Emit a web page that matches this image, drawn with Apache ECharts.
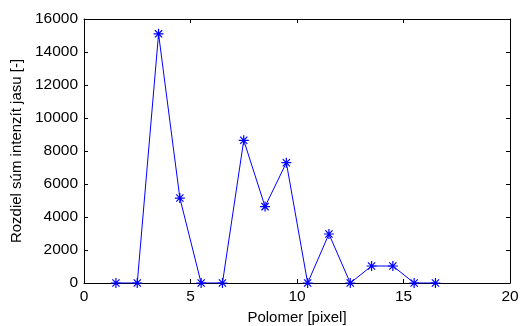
<!DOCTYPE html>
<html>
<head>
<meta charset="utf-8">
<script src="https://cdn.jsdelivr.net/npm/echarts@6/dist/echarts.min.js"></script>
<style>html,body{margin:0;padding:0;background:#fff;}#c{width:520px;height:326px;}</style>
</head>
<body>
<div id="c"></div>
<script>
const xValues = [1.5, 2.5, 3.5, 4.5, 5.5, 6.5, 7.5, 8.5, 9.5, 10.5, 11.5, 12.5, 13.5, 14.5, 15.5, 16.5];
const yValues = [0, 0, 15100, 5150, 0, 0, 8650, 4630, 7290, 0, 2970, 0, 1030, 1030, 0, 0];
const xTitle = 'Polomer [pixel]';
const yTitle = 'Rozdiel súm intenzít jasu [-]';

const font = '"Liberation Sans", Arial, sans-serif';
const chart = echarts.init(document.getElementById('c'), null, {renderer: 'canvas'});
const starPath = 'path://M0,-5L0,5M-5,0L5,0M-3.6,-3.6L3.6,3.6M-3.6,3.6L3.6,-3.6';

function baseAxis() {
  return {
    axisLine: {show: true, onZero: false, lineStyle: {color: '#000', width: 1}},
    axisTick: {show: true, inside: true, length: 4, lineStyle: {color: '#000'}},
    splitLine: {show: false}
  };
}

chart.setOption({
  animation: false,
  backgroundColor: '#fff',
  grid: {left: 84, right: 10, top: 19, bottom: 43, containLabel: false, outerBoundsMode: 'none'},
  xAxis: [
    Object.assign(baseAxis(), {
      type: 'value', min: 0, max: 20, interval: 5, position: 'bottom',
      name: xTitle, nameLocation: 'middle', nameGap: 26,
      nameTextStyle: {fontFamily: font, fontSize: 15, color: '#000'},
      axisLabel: {fontFamily: font, fontSize: 15.5, color: '#000', margin: 6, formatter: v => String(v)}
    }),
    Object.assign(baseAxis(), {
      type: 'value', min: 0, max: 20, interval: 5, position: 'top',
      axisLabel: {show: false}
    })
  ],
  yAxis: [
    Object.assign(baseAxis(), {
      type: 'value', min: 0, max: 16000, interval: 2000, position: 'left',
      name: yTitle, nameLocation: 'middle', nameGap: 58, nameRotate: 90,
      nameTextStyle: {fontFamily: font, fontSize: 15, color: '#000'},
      axisLabel: {fontFamily: font, fontSize: 15.5, color: '#000', margin: 6, formatter: v => String(v)}
    }),
    Object.assign(baseAxis(), {
      type: 'value', min: 0, max: 16000, interval: 2000, position: 'right',
      axisLabel: {show: false}
    })
  ],
  series: [{
    type: 'line',
    xAxisIndex: 0, yAxisIndex: 0,
    data: xValues.map((x, i) => [x, yValues[i]]),
    symbol: starPath,
    symbolSize: 10,
    showAllSymbol: true,
    lineStyle: {color: '#0000ff', width: 1},
    itemStyle: {color: 'none', borderColor: '#0000ff', borderWidth: 1.2},
    emphasis: {disabled: true}
  }]
});
</script>
</body>
</html>
